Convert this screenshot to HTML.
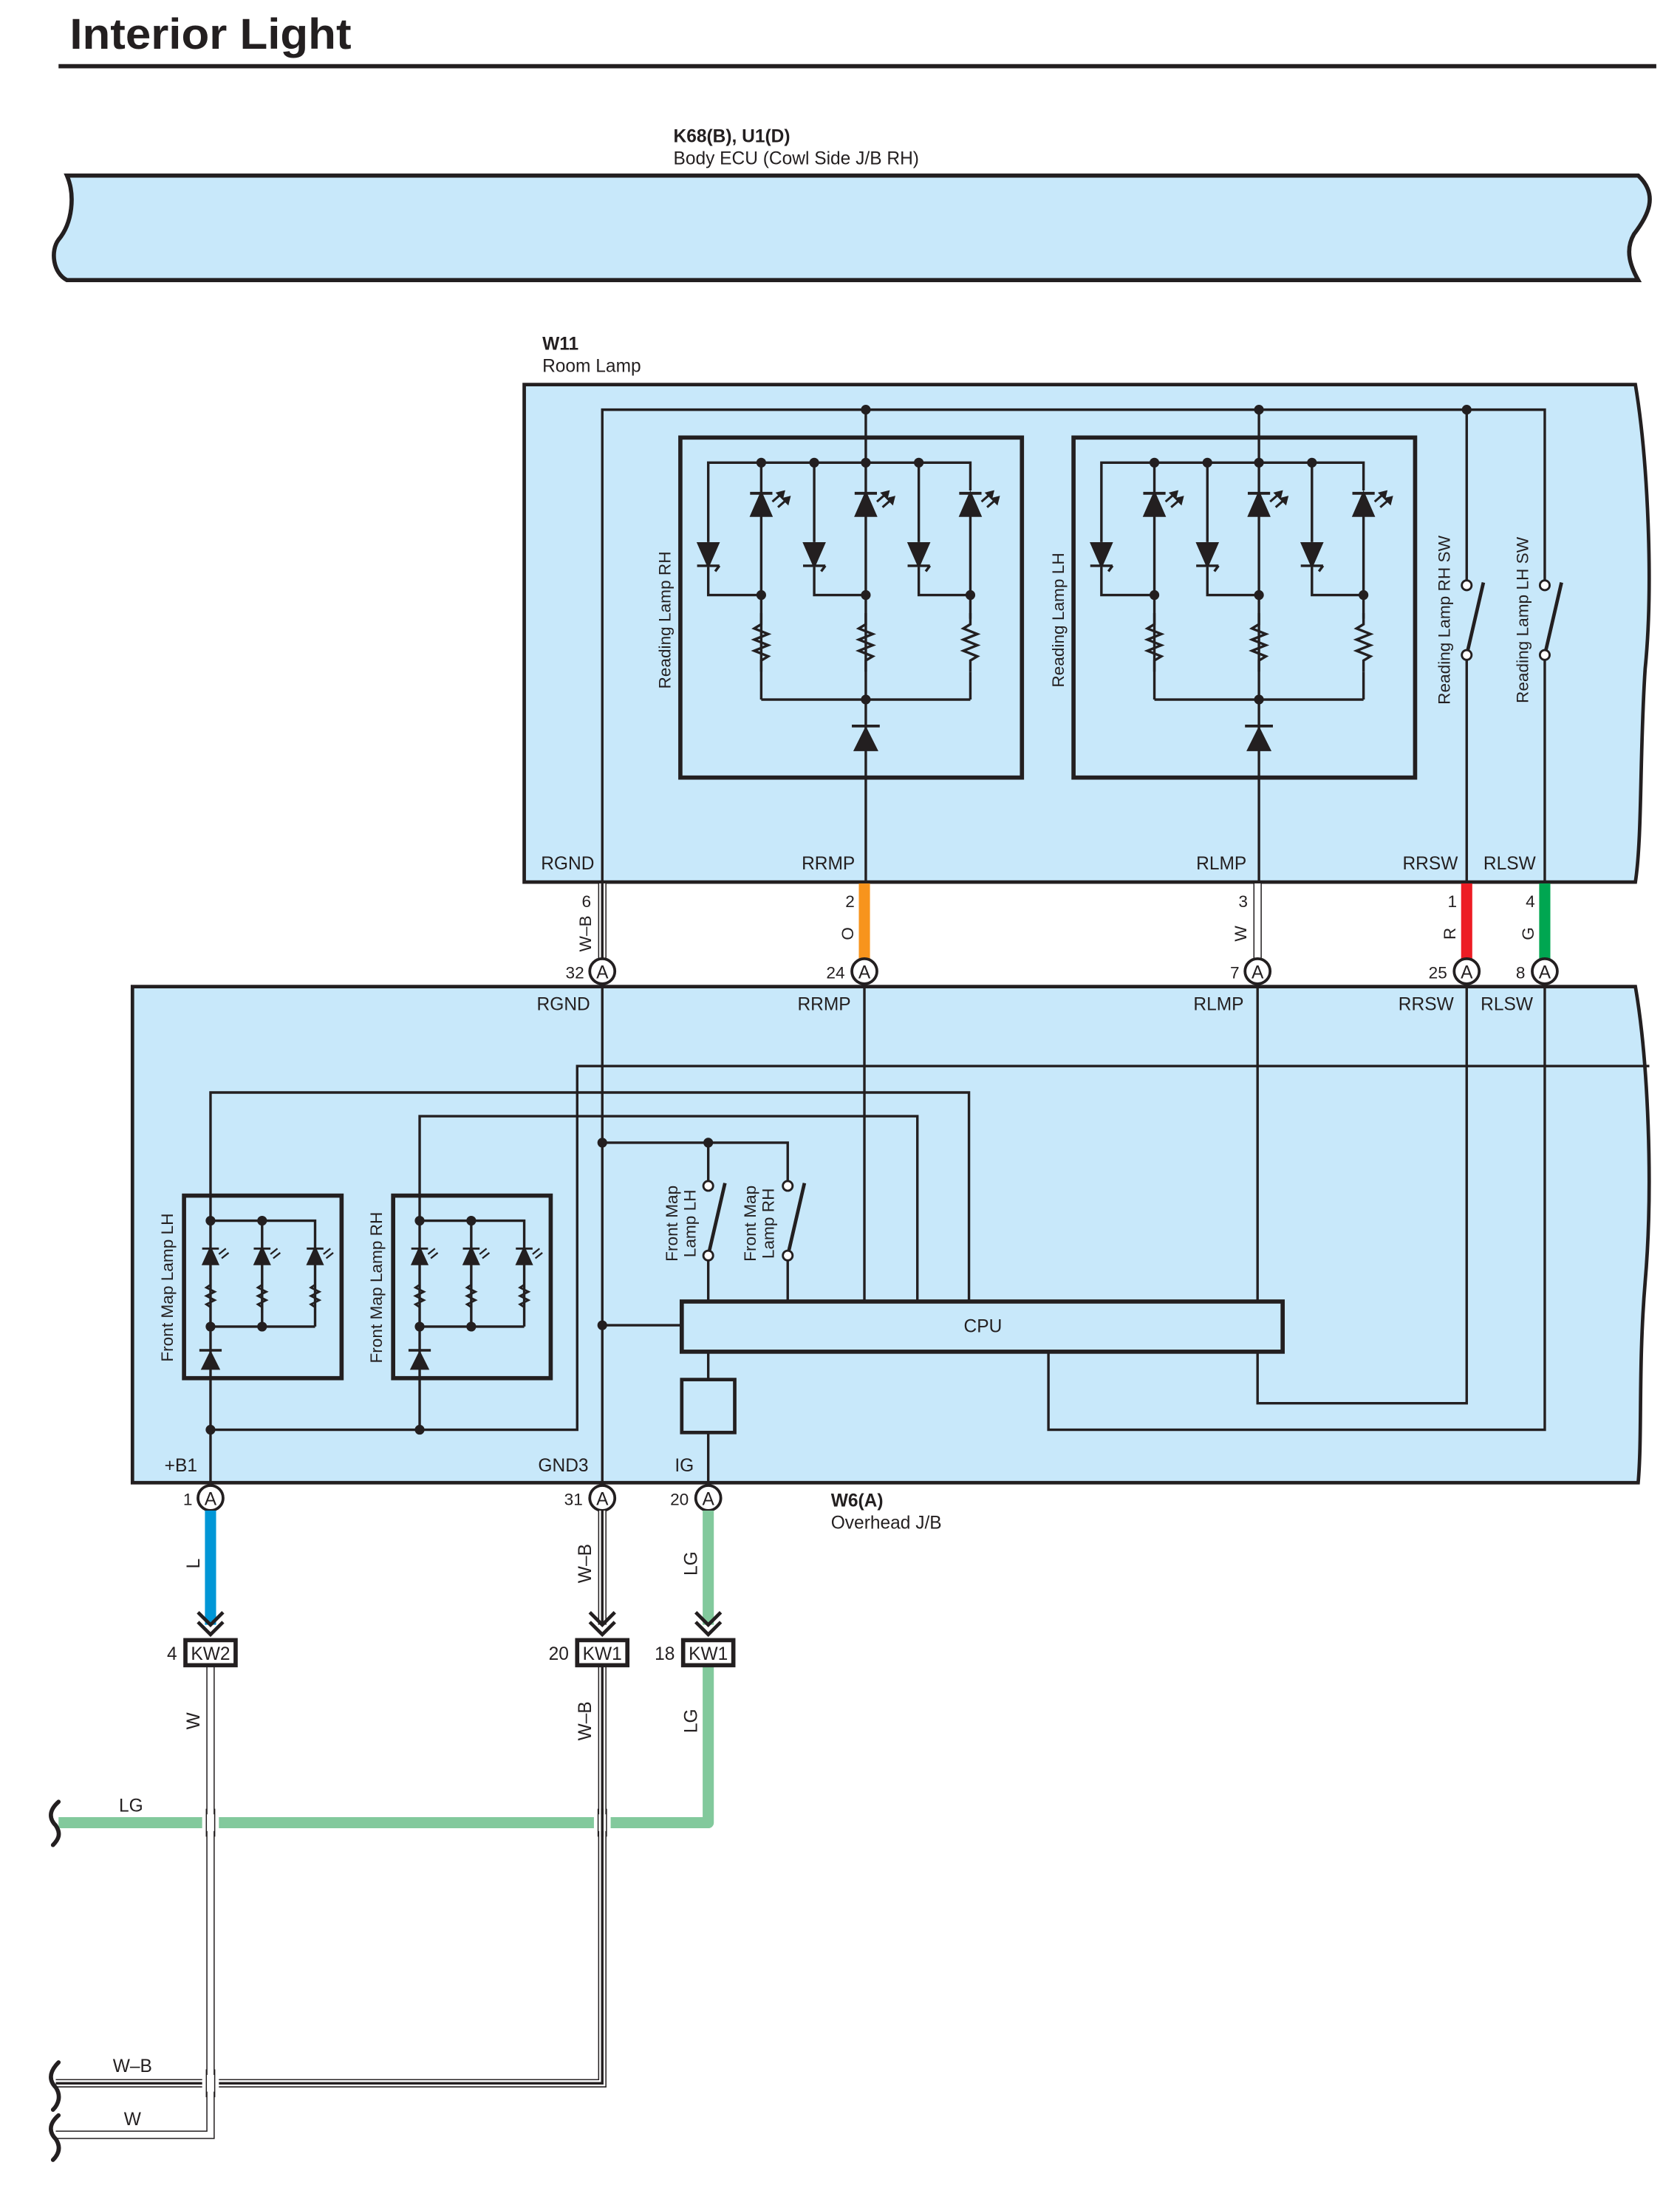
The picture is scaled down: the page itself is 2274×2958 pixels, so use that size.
<!DOCTYPE html>
<html><head><meta charset="utf-8"><style>
html,body{margin:0;padding:0;background:#fff}
svg{display:block}
text{font-family:"Liberation Sans",sans-serif;fill:#231f20}
</style></head><body>
<svg width="2274" height="2958" viewBox="0 0 1205 1568" preserveAspectRatio="none" xmlns="http://www.w3.org/2000/svg">
<defs>
<g id="led">
<path d="M-7,9 L7,9 L0,-7 Z" fill="#231f20"/><line x1="-8" y1="-7" x2="8" y2="-7" stroke="#231f20" stroke-width="2"/>
<path d="M8,-1 L16,-8 M12,3 L20,-4" stroke="#231f20" stroke-width="1.6"/>
<path d="M16,-8 l-4,1 l3,3z M20,-4 l-4,1 l3,3z" fill="#231f20"/>
</g>
<g id="pt">
<path d="M-7,-8 L7,-8 L0,8 Z" fill="#231f20"/><path d="M-8,8 L8,8 M8,8 L5,12" stroke="#231f20" stroke-width="1.8" fill="none"/>
</g>
<g id="rl">
<path d="M1,0 v8 l-5,3 l10,4 l-10,4 l10,4 l-10,4 l10,4 l-5,3 v8" stroke="#231f20" stroke-width="1.8" fill="none" transform="translate(-1,0)"/>
</g>
<g id="lamp" stroke="#231f20" fill="none" stroke-width="1.8">
<rect x="488" y="314" width="245" height="244" stroke-width="3"/>
<line x1="621" y1="294" x2="621" y2="700"/>
<polyline points="508,389 508,332 696,332 696,352"/>
<line x1="546" y1="332" x2="546" y2="502"/><line x1="584" y1="332" x2="584" y2="389"/><line x1="659" y1="332" x2="659" y2="389"/>
<line x1="696" y1="370" x2="696" y2="444"/>
<polyline points="508,407 508,427 546,427"/><polyline points="584,407 584,427 621,427"/><polyline points="659,407 659,427 696,427"/>
<line x1="546" y1="502" x2="696" y2="502"/><line x1="696" y1="482" x2="696" y2="502"/>
<use href="#led" x="546" y="361"/><use href="#led" x="621" y="361"/><use href="#led" x="696" y="361"/>
<use href="#pt" x="508" y="398"/><use href="#pt" x="584" y="398"/><use href="#pt" x="659" y="398"/>
<use href="#rl" x="546" y="440"/><use href="#rl" x="621" y="440"/><use href="#rl" x="696" y="440"/>
<path d="M612,539 L630,539 L621,521 Z" fill="#231f20" stroke="none"/><line x1="611" y1="521" x2="631" y2="521" stroke-width="2"/>
<g fill="#231f20" stroke="none"><circle cx="546" cy="332" r="3.5"/><circle cx="584" cy="332" r="3.5"/><circle cx="621" cy="332" r="3.5"/><circle cx="659" cy="332" r="3.5"/><circle cx="546" cy="427" r="3.5"/><circle cx="621" cy="427" r="3.5"/><circle cx="696" cy="427" r="3.5"/><circle cx="621" cy="502" r="3.5"/><circle cx="621" cy="294" r="3.5"/></g>
</g>
<g id="sled">
<path d="M-5,6 L5,6 L0,-5 Z" fill="#231f20"/><line x1="-6" y1="-5" x2="6" y2="-5" stroke="#231f20" stroke-width="1.5"/>
<path d="M6,-1 L11,-5 M8,2 L13,-2" stroke="#231f20" stroke-width="1.2"/>
</g>
<g id="srl"><path d="M0,0 v4 l-3,2 l6,3 l-6,3 l6,3 l-6,3 l3,2 v4" stroke="#231f20" stroke-width="1.5" fill="none"/></g>
<g id="fmap" stroke="#231f20" fill="none" stroke-width="1.8">
<rect x="132" y="858" width="113" height="131" stroke-width="3"/>
<polyline points="151,876 226,876 226,896"/><line x1="188" y1="876" x2="188" y2="952"/><line x1="151" y1="952" x2="226" y2="952"/><line x1="226" y1="906" x2="226" y2="952"/>
<use href="#sled" x="151" y="901"/><use href="#sled" x="188" y="901"/><use href="#sled" x="226" y="901"/>
<use href="#srl" x="151" y="918"/><use href="#srl" x="188" y="918"/><use href="#srl" x="226" y="918"/>
<path d="M144,983 L158,983 L151,969 Z" fill="#231f20" stroke="none"/><line x1="143" y1="969" x2="159" y2="969"/>
<g fill="#231f20" stroke="none"><circle cx="151" cy="876" r="3.5"/><circle cx="188" cy="876" r="3.5"/><circle cx="151" cy="952" r="3.5"/><circle cx="188" cy="952" r="3.5"/></g>
</g>
<g id="conn"><circle r="9" fill="#fff" stroke="#231f20" stroke-width="2"/><text y="5" text-anchor="middle" font-size="13">A</text></g>
</defs>

<text x="50" y="35" font-size="31" font-weight="bold" textLength="202" lengthAdjust="spacingAndGlyphs">Interior Light</text>
<line x1="42" y1="47.5" x2="1188" y2="47.5" stroke="#231f20" stroke-width="3"/>

<text x="483" y="102" font-size="13" font-weight="bold">K68(B), U1(D)</text>
<text x="483" y="118" font-size="13">Body ECU (Cowl Side J/B RH)</text>
<path d="M48,126 L1175,126 C1190,140 1182,155 1172,168 C1165,180 1170,192 1175,201 L48,201 C38,196 36,180 42,172 C52,160 54,140 48,126 Z" fill="#c8e8fa" stroke="#231f20" stroke-width="3"/>

<text x="389" y="251" font-size="13" font-weight="bold">W11</text>
<text x="389" y="267" font-size="13">Room Lamp</text>
<path d="M376,276 L1173,276 C1182,330 1186,420 1180,480 C1176,540 1178,600 1173,633 L376,633 Z" fill="#c8e8fa" stroke="#231f20" stroke-width="2.5"/>
<g stroke="#231f20" stroke-width="1.8" fill="none">
<polyline points="432,697 432,294 1108,294 1108,420"/>
<line x1="1052" y1="294" x2="1052" y2="420"/>
<line x1="1052" y1="470" x2="1052" y2="633"/><line x1="1108" y1="470" x2="1108" y2="633"/>
<line x1="1052" y1="470" x2="1064" y2="418" stroke-width="2.5"/><line x1="1108" y1="470" x2="1120" y2="418" stroke-width="2.5"/>
</g>
<g fill="#fff" stroke="#231f20" stroke-width="1.5"><circle cx="1052" cy="420" r="3.5"/><circle cx="1052" cy="470" r="3.5"/><circle cx="1108" cy="420" r="3.5"/><circle cx="1108" cy="470" r="3.5"/></g>
<circle cx="1052" cy="294" r="3.5" fill="#231f20"/>
<use href="#lamp"/>
<use href="#lamp" x="282"/>
<g font-size="12">
<text transform="translate(481,445) rotate(-90)" text-anchor="middle">Reading Lamp RH</text>
<text transform="translate(763,445) rotate(-90)" text-anchor="middle">Reading Lamp LH</text>
<text transform="translate(1040,445) rotate(-90)" text-anchor="middle">Reading Lamp RH SW</text>
<text transform="translate(1096,445) rotate(-90)" text-anchor="middle">Reading Lamp LH SW</text>
</g>
<g font-size="13">
<text x="388" y="624">RGND</text><text x="575" y="624">RRMP</text><text x="858" y="624">RLMP</text><text x="1006" y="624">RRSW</text><text x="1064" y="624">RLSW</text>
</g>

<g fill="none">
<line x1="432" y1="634" x2="432" y2="690" stroke="#231f20" stroke-width="6"/><line x1="432" y1="634" x2="432" y2="690" stroke="#fff" stroke-width="4.4"/><line x1="432" y1="634" x2="432" y2="690" stroke="#231f20" stroke-width="1.8"/>
<line x1="620" y1="634" x2="620" y2="690" stroke="#f7941d" stroke-width="8"/>
<line x1="902" y1="634" x2="902" y2="690" stroke="#231f20" stroke-width="6"/><line x1="902" y1="634" x2="902" y2="690" stroke="#fff" stroke-width="4.4"/>
<line x1="1052" y1="634" x2="1052" y2="690" stroke="#ed1c24" stroke-width="8"/>
<line x1="1108" y1="634" x2="1108" y2="690" stroke="#00a651" stroke-width="8"/>
</g>
<g font-size="12">
<text x="424" y="651" text-anchor="end">6</text><text x="613" y="651" text-anchor="end">2</text><text x="895" y="651" text-anchor="end">3</text><text x="1045" y="651" text-anchor="end">1</text><text x="1101" y="651" text-anchor="end">4</text>
<text transform="translate(424,670) rotate(-90)" text-anchor="middle">W–B</text>
<text transform="translate(612,670) rotate(-90)" text-anchor="middle">O</text>
<text transform="translate(894,670) rotate(-90)" text-anchor="middle">W</text>
<text transform="translate(1044,670) rotate(-90)" text-anchor="middle">R</text>
<text transform="translate(1100,670) rotate(-90)" text-anchor="middle">G</text>
</g>

<path d="M95,708 L1173,708 C1182,760 1186,850 1180,920 C1175,980 1178,1030 1175,1064 L95,1064 Z" fill="#c8e8fa" stroke="#231f20" stroke-width="2.5"/>
<g stroke="#231f20" stroke-width="1.8" fill="none">
<line x1="432" y1="697" x2="432" y2="1075"/>
<line x1="620" y1="697" x2="620" y2="934"/>
<polyline points="902,697 902,1007 1052,1007 1052,697"/>
<polyline points="752,970 752,1026 1108,1026 1108,697"/>
<polyline points="1183,765 414,765 414,1026 151,1026"/>
<polyline points="151,1075 151,784 695,784 695,934"/>
<polyline points="301,1026 301,801 658,801 658,934"/>
<polyline points="432,820 565,820 565,851"/>
<line x1="508" y1="820" x2="508" y2="851"/>
<line x1="508" y1="901" x2="508" y2="934"/><line x1="565" y1="901" x2="565" y2="934"/>
<line x1="508" y1="901" x2="520" y2="849" stroke-width="2.5"/><line x1="565" y1="901" x2="577" y2="849" stroke-width="2.5"/>
<line x1="432" y1="951" x2="489" y2="951"/>
<line x1="508" y1="970" x2="508" y2="1075"/>
</g>
<g fill="#fff" stroke="#231f20" stroke-width="1.5"><circle cx="508" cy="851" r="3.5"/><circle cx="508" cy="901" r="3.5"/><circle cx="565" cy="851" r="3.5"/><circle cx="565" cy="901" r="3.5"/></g>
<g fill="#231f20"><circle cx="432" cy="820" r="3.5"/><circle cx="508" cy="820" r="3.5"/><circle cx="432" cy="951" r="3.5"/><circle cx="151" cy="1026" r="3.5"/><circle cx="301" cy="1026" r="3.5"/></g>
<rect x="489" y="934" width="431" height="36" fill="#c8e8fa" stroke="#231f20" stroke-width="3"/>
<text x="705" y="956" font-size="13" text-anchor="middle">CPU</text>
<rect x="489" y="990" width="38" height="38" fill="#c8e8fa" stroke="#231f20" stroke-width="2.5"/>
<use href="#fmap"/>
<use href="#fmap" x="150"/>
<g font-size="12">
<text transform="translate(124,924) rotate(-90)" text-anchor="middle">Front Map Lamp LH</text>
<text transform="translate(274,924) rotate(-90)" text-anchor="middle">Front Map Lamp RH</text>
<text transform="translate(486,878) rotate(-90)" text-anchor="middle">Front Map</text>
<text transform="translate(499,878) rotate(-90)" text-anchor="middle">Lamp LH</text>
<text transform="translate(542,878) rotate(-90)" text-anchor="middle">Front Map</text>
<text transform="translate(555,878) rotate(-90)" text-anchor="middle">Lamp RH</text>
</g>
<g font-size="13">
<text x="385" y="725">RGND</text><text x="572" y="725">RRMP</text><text x="856" y="725">RLMP</text><text x="1003" y="725">RRSW</text><text x="1062" y="725">RLSW</text>
<text x="118" y="1056">+B1</text><text x="386" y="1056">GND3</text><text x="484" y="1056">IG</text>
<text x="596" y="1081" font-weight="bold">W6(A)</text><text x="596" y="1097">Overhead J/B</text>
</g>
<use href="#conn" x="432" y="697"/><use href="#conn" x="620" y="697"/><use href="#conn" x="902" y="697"/><use href="#conn" x="1052" y="697"/><use href="#conn" x="1108" y="697"/>
<use href="#conn" x="151" y="1075"/><use href="#conn" x="432" y="1075"/><use href="#conn" x="508" y="1075"/>
<g font-size="12" text-anchor="end">
<text x="419" y="702">32</text><text x="606" y="702">24</text><text x="889" y="702">7</text><text x="1038" y="702">25</text><text x="1094" y="702">8</text>
<text x="138" y="1080">1</text><text x="418" y="1080">31</text><text x="494" y="1080">20</text>
</g>

<g fill="none">
<line x1="151" y1="1084" x2="151" y2="1166" stroke="#0096d6" stroke-width="8"/>
<line x1="432" y1="1084" x2="432" y2="1166" stroke="#231f20" stroke-width="6"/><line x1="432" y1="1084" x2="432" y2="1166" stroke="#fff" stroke-width="4.4"/><line x1="432" y1="1084" x2="432" y2="1166" stroke="#231f20" stroke-width="1.8"/>
<line x1="508" y1="1084" x2="508" y2="1166" stroke="#82c99c" stroke-width="8"/>
<polyline points="42,1308 508,1308 508,1195" stroke="#82c99c" stroke-width="8" stroke-linejoin="round"/>
<polyline points="40,1495 432,1495 432,1195" stroke="#231f20" stroke-width="6"/>
<polyline points="40,1495 432,1495 432,1195" stroke="#fff" stroke-width="4.4"/>
<polyline points="40,1495 432,1495 432,1195" stroke="#231f20" stroke-width="1.8"/>
<polyline points="40,1532 151,1532 151,1195" stroke="#231f20" stroke-width="6"/>
<polyline points="40,1532 151,1532 151,1195" stroke="#fff" stroke-width="4.4"/>
</g>
<rect x="145" y="1302" width="12" height="12" fill="#fff"/>
<line x1="148" y1="1298" x2="148" y2="1318" stroke="#231f20" stroke-width="0.8"/><line x1="154" y1="1298" x2="154" y2="1318" stroke="#231f20" stroke-width="0.8"/>
<rect x="426" y="1302" width="12" height="12" fill="#fff"/>
<line x1="429" y1="1298" x2="429" y2="1318" stroke="#231f20" stroke-width="0.8"/><line x1="435" y1="1298" x2="435" y2="1318" stroke="#231f20" stroke-width="0.8"/><line x1="432" y1="1298" x2="432" y2="1318" stroke="#231f20" stroke-width="1.8"/>
<rect x="145" y="1489" width="12" height="12" fill="#fff"/>
<line x1="148" y1="1485" x2="148" y2="1505" stroke="#231f20" stroke-width="0.8"/><line x1="154" y1="1485" x2="154" y2="1505" stroke="#231f20" stroke-width="0.8"/>
<g stroke="#231f20" stroke-width="2.5" fill="none">
<path d="M142,1157 L151,1166 L160,1157 M142,1164 L151,1173 L160,1164"/>
<path d="M423,1157 L432,1166 L441,1157 M423,1164 L432,1173 L441,1164"/>
<path d="M499,1157 L508,1166 L517,1157 M499,1164 L508,1173 L517,1164"/>
</g>
<g stroke="#231f20" stroke-width="3" fill="#fff">
<rect x="133" y="1177" width="36" height="18"/><rect x="414" y="1177" width="36" height="18"/><rect x="490" y="1177" width="36" height="18"/>
</g>
<g font-size="13">
<text x="151" y="1191" text-anchor="middle">KW2</text><text x="432" y="1191" text-anchor="middle">KW1</text><text x="508" y="1191" text-anchor="middle">KW1</text>
<text x="127" y="1191" text-anchor="end">4</text><text x="408" y="1191" text-anchor="end">20</text><text x="484" y="1191" text-anchor="end">18</text>
<text transform="translate(143,1122) rotate(-90)" text-anchor="middle">L</text>
<text transform="translate(424,1122) rotate(-90)" text-anchor="middle">W–B</text>
<text transform="translate(500,1122) rotate(-90)" text-anchor="middle">LG</text>
<text transform="translate(143,1235) rotate(-90)" text-anchor="middle">W</text>
<text transform="translate(424,1235) rotate(-90)" text-anchor="middle">W–B</text>
<text transform="translate(500,1235) rotate(-90)" text-anchor="middle">LG</text>
<text x="94" y="1300" text-anchor="middle">LG</text>
<text x="95" y="1487" text-anchor="middle">W–B</text>
<text x="95" y="1525" text-anchor="middle">W</text>
</g>
<g stroke="#231f20" stroke-width="3" fill="none" stroke-linecap="round">
<path d="M42,1293 C34,1300 36,1306 40,1310 C44,1316 42,1320 38,1324"/>
<path d="M42,1480 C34,1488 36,1494 40,1498 C44,1504 42,1510 38,1514"/>
<path d="M42,1518 C34,1525 36,1531 40,1535 C44,1541 42,1546 38,1550"/>
</g>
</svg>
</body></html>
